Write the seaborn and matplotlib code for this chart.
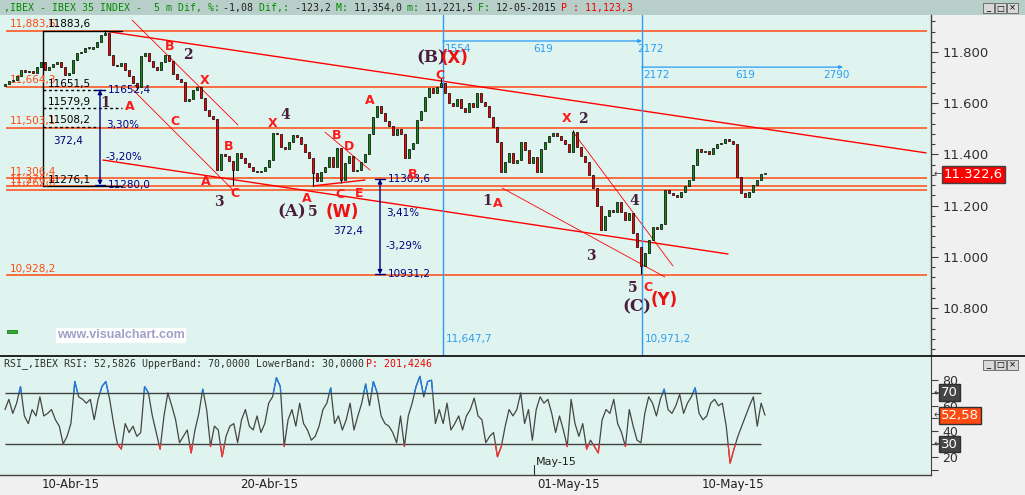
import numpy as np
import pandas as pd
import matplotlib
matplotlib.use("Agg")
import matplotlib.pyplot as plt
from matplotlib.patches import Rectangle
from matplotlib.transforms import ScaledTranslation
import seaborn as sns

# data ----------------------------------------------------------------------
first_open = 11668
closes = [11675, 11685, 11690, 11705, 11728, 11722, 11725, 11718, 11740, 11760,
          11730, 11740, 11755, 11761, 11741, 11710, 11718, 11770, 11796, 11800,
          11815, 11812, 11820, 11840, 11866, 11874, 11790, 11750, 11745, 11757,
          11730, 11705, 11680, 11665, 11785, 11795, 11765, 11740, 11728, 11762,
          11788, 11765, 11715, 11695, 11683, 11610, 11615, 11652, 11663, 11620,
          11575, 11550, 11538, 11340, 11400, 11395, 11375, 11340, 11405, 11385,
          11365, 11350, 11335, 11330, 11335, 11352, 11378, 11484, 11480, 11430,
          11420, 11450, 11476, 11468, 11440, 11410, 11385, 11327, 11295, 11330,
          11351, 11390, 11351, 11425, 11300, 11365, 11395, 11335, 11340, 11370,
          11400, 11480, 11546, 11590, 11560, 11530, 11510, 11476, 11500, 11480,
          11385, 11420, 11445, 11534, 11570, 11624, 11660, 11640, 11663, 11679,
          11640, 11600, 11590, 11615, 11580, 11566, 11600, 11585, 11640, 11605,
          11590, 11546, 11507, 11450, 11330, 11370, 11405, 11368, 11380, 11450,
          11417, 11366, 11390, 11330, 11420, 11448, 11470, 11484, 11470, 11455,
          11440, 11410, 11488, 11430, 11395, 11370, 11320, 11270, 11200, 11105,
          11160, 11182, 11175, 11214, 11175, 11144, 11170, 11093, 11038, 10965,
          11015, 11066, 11116, 11110, 11130, 11261, 11250, 11240, 11235, 11255,
          11275, 11300, 11360, 11420, 11410, 11415, 11400, 11425, 11440, 11445,
          11460, 11452, 11440, 11310, 11250, 11235, 11255, 11280, 11300, 11322,
          11322.6]
wick_hi = {25: 11883.6, 109: 11698.0, 142: 11495.0}
wick_lo = {33: 11652.4, 57: 11280.0, 77: 11276.1, 84: 11290.0, 159: 10931.2}

rsi = [57, 65, 54, 62, 75, 52, 46, 57, 52, 67,
       52, 54, 57, 49, 44, 30, 36, 46, 79, 67,
       65, 62, 65, 49, 65, 75, 79, 65, 46, 30,
       26, 46, 39, 44, 36, 39, 75, 70, 52, 39,
       26, 52, 70, 60, 49, 31, 36, 41, 23, 41,
       54, 73, 57, 28, 44, 41, 20, 36, 44, 46,
       31, 49, 57, 44, 41, 52, 39, 46, 62, 67,
       82, 75, 28, 49, 57, 44, 62, 46, 41, 33,
       36, 44, 57, 62, 74, 46, 52, 41, 49, 62,
       41, 52, 62, 77, 60, 79, 70, 52, 46, 44,
       39, 31, 52, 28, 52, 62, 75, 83, 67, 79,
       80, 46, 57, 46, 62, 41, 46, 52, 41, 52,
       57, 66, 52, 49, 31, 36, 39, 20, 28, 44,
       57, 52, 57, 70, 46, 57, 33, 57, 67, 62,
       65, 54, 39, 52, 41, 28, 65, 46, 36, 46,
       26, 33, 28, 23, 49, 57, 54, 65, 46, 39,
       28, 57, 44, 33, 31, 54, 67, 62, 52, 65,
       73, 57, 54, 60, 69, 54, 62, 67, 74, 54,
       49, 52, 62, 65, 60, 62, 44, 15, 26, 36,
       44, 52, 60, 67, 44, 62, 52.58]

h_levels = [11883.6, 11664.3, 11503.1, 11306.4, 11276.4, 11262.6, 10928.2]
h_labels = ['11,883,6', '11,664,3', '11,503,1', '11,306,4', '11,276,4', '11,262,6', '10,928,2']

fib_levels = [11883.6, 11651.5, 11579.9, 11508.2, 11276.1]
fib_labels = ['11883,6', '11651,5', '11579,9', '11508,2', '11276,1']

date_pos = [8.25, 58, 132.25, 173.25]
date_labels = ['10-Abr-15', '20-Abr-15', '01-May-15', '10-May-15']

# wave labels: text, bar, price, kind
waves = [('B', 41.25, 11820, 'r'), ('2', 45.75, 11788, 'p'), ('X', 50, 11687, 'r'),
         ('1', 25, 11601, 'p'), ('A', 31.25, 11589, 'r'), ('C', 42.5, 11527, 'r'),
         ('B', 56, 11429, 'r'), ('A', 50.25, 11296, 'r'), ('C', 57.5, 11249, 'r'),
         ('3', 53.5, 11214, 'p'), ('X', 67, 11519, 'r'), ('4', 70, 11554, 'p'),
         ('B', 83, 11472, 'r'), ('D', 86, 11429, 'r'), ('A', 75.5, 11226, 'r'),
         ('C', 83.75, 11245, 'r'), ('E', 88.5, 11249, 'r'), ('B', 102, 11320, 'r'),
         ('1', 120.5, 11218, 'p'), ('A', 123.25, 11210, 'r'), ('C', 108.75, 11710, 'r'),
         ('A', 91.25, 11609, 'r'), ('X', 140.5, 11542, 'r'), ('2', 144.5, 11538, 'p'),
         ('4', 157.25, 11218, 'p'), ('3', 146.5, 11003, 'p'), ('5', 157, 10878, 'p'),
         ('C', 160.75, 10882, 'r'), ('5', 77, 11175, 'p')]
big_waves = [('(A)', 71.75, 11175, 'p'), ('(W)', 84.25, 11175, 'r'), ('(B)', 106.5, 11777, 'p'),
             ('(X)', 112.5, 11777, 'r'), ('(C)', 158, 10804, 'p'), ('(Y)', 164.75, 10831, 'r')]

# trend lines (bar0, price0, bar1, price1, width)
trends = [(24.75, 11882, 230.25, 11406, 1.0), (24.5, 11378, 180.75, 11011, 1.0),
          (31.75, 11925, 58.25, 11515, 0.6), (32, 11652, 57, 11261, 0.6),
          (77, 11277, 90, 11300, 1.0), (80, 11487, 91.25, 11339, 0.6),
          (124.25, 11269, 165, 10921, 0.6), (142, 11488, 167, 10964, 0.6)]

# style -------------------------------------------------------------------
sns.set_style("white")
plt.rcParams['font.family'] = ['DejaVu Sans']
bg = '#e0f4ef'
red_txt = '#ff1a1a'
purple = '#4a1f3d'
orange = '#ff4a10'
blue = '#2a9df4'
navy = '#000080'
W, H = 1025, 495
fx = lambda x: x / W
fy = lambda y: 1 - y / H

fig = plt.figure(figsize=(10.25, 4.95), dpi=100)
fig.patch.set_facecolor('#f0f0f0')

# title bar
tb = fig.add_axes([0, fy(15), 1, 15 / H])
tb.set_facecolor('#b8cec8')
tb.set_xticks([]); tb.set_yticks([])
for s in tb.spines.values():
    s.set_visible(False)

mono = 'DejaVu Sans Mono'
cw = 5.93
title_segs = [(',IBEX - IBEX 35 INDEX -  5 m Dif, %: ', '#008a00'), ('-1,08 ', '#202020'),
              ('Dif,: ', '#008a00'), ('-123,2 ', '#202020'), ('M: ', '#008a00'),
              ('11,354,0 ', '#202020'), ('m: ', '#008a00'), ('11,221,5 ', '#202020'),
              ('F: ', '#008a00'), ('12-05-2015 ', '#202020'), ('P : 11,123,3', '#ee0000')]
pos = 4
for t, c in title_segs:
    fig.text(fx(pos), fy(8), t, family=mono, fontsize=7.1, color=c, va='center', ha='left')
    pos += len(t) * cw


def buttons(ytop):
    for x0, sym in [(983, '_'), (995, '□'), (1007, '×')]:
        fig.patches.append(Rectangle((fx(x0), fy(ytop + 10)), 11 / W, 10 / H, transform=fig.transFigure,
                                     fc='#d8d8d8', ec='#606060', lw=0.6))
        fig.text(fx(x0 + 5.5), fy(ytop + 5), sym, fontsize=6, ha='center', va='center', color='black')


buttons(3)

# main price panel ----------------------------------------------------------
ax = fig.add_axes([0, fy(355), 931 / W, 340 / H])
ax.set_facecolor(bg)
ax.set_xlim(-1.25, 231.5)
ax.set_ylim(10616.5, 11944.5)

n = len(closes)
df = pd.DataFrame({'bar': np.arange(n), 'close': closes})
df['open'] = [first_open] + closes[:-1]
df['hi'] = df[['open', 'close']].max(axis=1)
df['lo'] = df[['open', 'close']].min(axis=1)
for k, v in wick_hi.items():
    df.loc[k, 'hi'] = v
for k, v in wick_lo.items():
    df.loc[k, 'lo'] = v
df['body'] = (df['close'] - df['open']).where((df['close'] - df['open']).abs() > 3, 4)
up = df['close'] >= df['open']

for lv, lb in zip(h_levels, h_labels):
    ax.hlines(lv, 0.25, 230.5, color=orange, lw=1.1, zorder=1)
    ax.text(1.25, lv + 6, lb, color=orange, fontsize=7.5, va='bottom', ha='left')

ax.vlines(df['bar'], df['lo'], df['hi'], color='black', lw=0.8, zorder=3)
ax.bar(df['bar'][up], df['body'][up], bottom=df['open'][up], width=0.65,
       color='#109010', edgecolor='black', linewidth=0.5, zorder=4)
ax.bar(df['bar'][~up], df['body'][~up], bottom=df['open'][~up], width=0.65,
       color='#ff0000', edgecolor='black', linewidth=0.5, zorder=4)

for x0, p0, x1, p1, lw in trends:
    ax.plot([x0, x1], [p0, p1], color='#ff0000', lw=lw, zorder=2)

# retracement box
ax.plot([9.5, 9.5], [fib_levels[0], fib_levels[-1]], color='black', lw=1)
ax.plot([9.5, 29.25], [fib_levels[0], fib_levels[0]], color='black', lw=1)
ax.plot([9.5, 29.0], [fib_levels[-1], fib_levels[-1]], color='black', lw=1)
for lv, end in zip(fib_levels[1:4], [25, 29.25, 23.75]):
    ax.plot([9.5, end], [lv, lv], color='black', lw=1, ls=(0, (2, 2)))
for lv, lb in zip(fib_levels, fib_labels):
    ax.text(10.6, lv + 5, lb, color='black', fontsize=7.5, va='bottom', ha='left')

# navy measurement arrows
for xb, ptop, pbot, ltop, lbot, up_pct, dn_pct, dist, xd, pup, pdist, pdn in [
        (23.75, 11652.4, 11280.0, '11652,4', '11280,0', '3,30%', '-3,20%', '372,4', 12, 11515, 11452, 11390),
        (93.75, 11303.6, 10931.2, '11303,6', '10931,2', '3,41%', '-3,29%', '372,4', 82, 11171, 11101, 11042)]:
    ax.annotate('', xy=(xb, pbot), xytext=(xb, ptop),
                arrowprops=dict(arrowstyle='<|-|>', color=navy, lw=1, mutation_scale=6, shrinkA=0, shrinkB=0))
    ax.plot([xb - 1.3, xb + 1.3], [pbot, pbot], color=navy, lw=1)
    ax.plot([xb - 1.3, xb + 1.3], [ptop, ptop], color=navy, lw=1)
    ax.text(xb + 2, ptop, ltop, color=navy, fontsize=7.5, va='center')
    ax.text(xb + 2, pbot, lbot, color=navy, fontsize=7.5, va='center')
    ax.text(xb + 1.5, pup, up_pct, color=navy, fontsize=7.5, va='center')
    ax.text(xb + 1.5, pdn, dn_pct, color=navy, fontsize=7.5, va='center')
    ax.text(xd, pdist, dist, color=navy, fontsize=7.5, va='center')

# blue time cycle lines
for xv, lb in [(109.5, '11,647,7'), (159.25, '10,971,2')]:
    ax.axvline(xv, color=blue, lw=1.0, zorder=2)
    ax.text(xv + 0.8, 10679, lb, color=blue, fontsize=7.5, va='center')
for xa, xb_, pa, labs in [(109.5, 159.25, 11843, [('1554', 109.9, 'left'), ('619', 134.5, 'center'), ('2172', 161.3, 'center')]),
                         (159.25, 209.5, 11741, [('2172', 159.6, 'left'), ('619', 185, 'center'), ('2790', 207.8, 'center')])]:
    ax.annotate('', xy=(xb_, pa), xytext=(xa, pa),
                arrowprops=dict(arrowstyle='-|>', color=blue, lw=0.9, mutation_scale=5, shrinkA=0, shrinkB=0))
    ax.plot([xa, xa], [pa - 8, pa + 8], color=blue, lw=0.9)
    for t, xt, ha in labs:
        ax.text(xt, pa - 30, t, color=blue, fontsize=7.5, va='center', ha=ha)

for t, xb_, p, kind in waves:
    if kind == 'r':
        ax.text(xb_, p, t, color=red_txt, fontsize=9, fontweight='bold', ha='center', va='center', zorder=6)
    else:
        ax.text(xb_, p, t, color=purple, fontsize=10, fontweight='bold', family='DejaVu Serif',
                ha='center', va='center', zorder=6)
for t, xb_, p, kind in big_waves:
    if kind == 'r':
        ax.text(xb_, p, t, color='#ee1111', fontsize=12, fontweight='bold', family='DejaVu Sans',
                ha='center', va='center', zorder=6)
    else:
        ax.text(xb_, p, t, color=purple, fontsize=12, fontweight='bold', family='DejaVu Serif',
                ha='center', va='center', zorder=6)

ax.add_patch(Rectangle((0.5, 10702), 2.5, 14, fc='#30b030', ec='#1c7a1c', lw=0.6))
ax.text(13, 10694, 'www.visualchart.com', color='#a0a0c8', fontsize=9, fontweight='bold',
        family='Liberation Sans', va='center', ha='left',
        bbox=dict(fc='white', ec='none', pad=1))

for side in ['left', 'top', 'bottom']:
    ax.spines[side].set_visible(False)
ax.spines['right'].set_color('#404040')
ax.spines['right'].set_linewidth(1)
ax.set_xticks([])
ax.yaxis.tick_right()
yt = [10800, 11000, 11200, 11400, 11600, 11800]
ax.set_yticks(yt)
ax.set_yticklabels([f"{v // 1000}.{v % 1000:03d}" for v in yt])
ax.set_yticks(np.arange(10640, 11944, 40), minor=True)
ax.tick_params(axis='y', which='major', direction='out', length=5, width=0.8, color='#404040',
               labelsize=9.5, labelcolor='#303030', pad=3)
ax.tick_params(axis='y', which='minor', direction='out', length=3, width=0.8, color='#404040')

ax.text(1.003, 11322.6, '←', transform=ax.get_yaxis_transform(), fontsize=7, color='#404040',
        va='center', ha='left')
ax.text(1.014, 11322.6, '11.322,6', transform=ax.get_yaxis_transform(), fontsize=9.5, color='white',
        va='center', ha='left', bbox=dict(fc='#ff0000', ec='#404040', pad=0.15, boxstyle='square'))

# separator line
fig.add_artist(plt.Line2D([0, 1], [fy(356), fy(356)], transform=fig.transFigure, color='black', lw=1.2))

# RSI panel -------------------------------------------------------------------
ax2 = fig.add_axes([0, fy(475), 931 / W, 118 / H])
ax2.set_facecolor(bg)
ax2.set_xlim(-1.25, 231.5)
ax2.set_ylim(5.7, 98.2)
rsi_x = np.linspace(0, n - 1, len(rsi))
ax2.hlines([70, 30], 0, 189, color='#404040', lw=1.0)
sns.lineplot(x=rsi_x, y=rsi, ax=ax2, color='#454545', lw=0.9)
for lo_, hi_, c in [(70, 100, '#1a7ef0'), (0, 30, '#ff3030')]:
    ln, = ax2.plot(rsi_x, rsi, color=c, lw=0.9)
    clip = Rectangle((-5, lo_), 250, hi_ - lo_, transform=ax2.transData)
    ln.set_clip_path(clip)

ax2.plot([132.25, 132.25], [5.7, 13.5], color='#303030', lw=0.8)
ax2.text(132.8, 15.5, 'May-15', fontsize=8, color='#202020', va='center', ha='left')

for s in ['left', 'top']:
    ax2.spines[s].set_visible(False)
ax2.spines['right'].set_color('#404040')
ax2.spines['bottom'].set_color('#404040')
ax2.spines['bottom'].set_linewidth(1)
ax2.yaxis.tick_right()
ax2.set_yticks(np.arange(10, 90, 10))
ax2.set_yticklabels(['', '20', '', '40', '', '60', '', '80'])
ax2.tick_params(axis='y', direction='out', length=5, width=0.8, color='#404040',
                labelsize=9, labelcolor='#303030', pad=3)
ax2.set_xticks(date_pos)
ax2.set_xticklabels(date_labels, ha='left')
ax2.tick_params(axis='x', direction='out', length=4.5, width=0.8, color='#404040',
                labelsize=8.5, labelcolor='#202020', pad=-2)
for lab in ax2.get_xticklabels():
    lab.set_transform(lab.get_transform() + ScaledTranslation(2.5 / 72, 0, fig.dpi_scale_trans))

for val, txt, fc in [(70, '70', '#454545'), (52.58, '52,58', '#ff4a10'), (30, '30', '#454545')]:
    ax2.text(1.003, val, '←', transform=ax2.get_yaxis_transform(), fontsize=7, color='#404040',
             va='center', ha='left')
    ax2.text(1.011, val, txt, transform=ax2.get_yaxis_transform(), fontsize=9.5, color='white',
             va='center', ha='left', bbox=dict(fc=fc, ec='#303030', pad=0.15, boxstyle='square'))

rsi_segs = [('RSI_,IBEX RSI: 52,5826 UpperBand: 70,0000 LowerBand: 30,0000 ', '#303030'),
            ('P: 201,4246', '#ee0000')]
pos = 4
for t, c in rsi_segs:
    fig.text(fx(pos), fy(364), t, family=mono, fontsize=7.1, color=c, va='center', ha='left')
    pos += len(t) * cw
buttons(360)

fig.savefig('out.png', dpi=100, facecolor=fig.get_facecolor())
